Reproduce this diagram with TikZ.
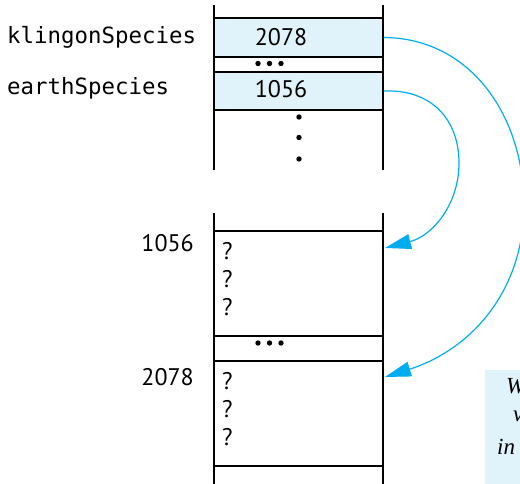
\documentclass[tikz,border=0pt]{standalone}
\usepackage{fontspec}
\setmainfont{PT Sans}
\newfontfamily\monof{DejaVu Sans Mono}
\newfontfamily\serifit{Liberation Serif}
\usetikzlibrary{arrows.meta}
\definecolor{cellblue}{HTML}{E0F2FA}
\definecolor{arrowblue}{HTML}{00AEEF}
\begin{document}
\begin{tikzpicture}[x=1pt,y=-1pt,
  wall/.style={line width=1.1pt, black},
  cellbox/.style={draw=black, line width=1.1pt, minimum width=169pt, inner sep=0pt},
  valtext/.style={font=\fontsize{24}{28}\selectfont, inner sep=0pt},
  lbl/.style={font=\monof\fontsize{22.4}{26}\selectfont, inner sep=0pt, anchor=west},
  qm/.style={font=\fontsize{24}{28}\selectfont, inner sep=0pt, anchor=west},
  note/.style={font=\serifit\itshape\fontsize{23}{27}\selectfont, inner sep=0pt, anchor=west},
  dotm/.style={circle, fill=black, inner sep=0pt, minimum size=5.4pt},
  ptr/.style={arrowblue, line width=1.2pt, -{Triangle[length=26pt,width=15pt]}}]
\useasboundingbox (0,0) rectangle (520,484);
\clip (0,0) rectangle (520,484);
% upper memory column
\draw[wall] (214,5) -- (214,170);
\draw[wall] (383,5) -- (383,170);
\node[cellbox, fill=cellblue, minimum height=39pt] (kc) at (298.5,37.5) {};
\node[cellbox, minimum height=15pt] (gap1) at (298.5,64.5) {};
\node[cellbox, fill=cellblue, minimum height=38pt] (ec) at (298.5,91) {};
\node[valtext] (kv) at (281,37) {2078};
\node[valtext] (ev) at (281,89) {1056};
\node[dotm] (d1) at (258,63.5) {};
\node[dotm] (d2) at (269.5,63.5) {};
\node[dotm] (d3) at (281,63.5) {};
\node[dotm] (v1) at (299,117) {};
\node[dotm] (v2) at (299,137.5) {};
\node[dotm] (v3) at (299,159) {};
\node[lbl] (kl) at (7,37) {klingonSpecies};
\node[lbl] (el) at (7,88) {earthSpecies};
% lower memory column
\draw[wall] (214,213) -- (214,490);
\draw[wall] (383,213) -- (383,490);
\node[cellbox, minimum height=105pt] (b1) at (298.5,283.5) {};
\node[cellbox, minimum height=25pt] (gap2) at (298.5,348.5) {};
\node[cellbox, minimum height=105pt] (b2) at (298.5,413.5) {};
\node[dotm] (d4) at (258,343) {};
\node[dotm] (d5) at (269.5,343) {};
\node[dotm] (d6) at (281,343) {};
\node[valtext, anchor=east] (a1) at (194,243) {1056};
\node[valtext, anchor=east] (a2) at (194,377) {2078};
\node[qm] (q1) at (222,251) {?};
\node[qm] (q2) at (222,279) {?};
\node[qm] (q3) at (222,307) {?};
\node[qm] (q4) at (222,381) {?};
\node[qm] (q5) at (222,409) {?};
\node[qm] (q6) at (222,437) {?};
\coordinate (t1) at (385,248);
\coordinate (t2) at (385,377);
% pointers
\draw[ptr] (ec.east) .. controls (432,89) and (459,120) .. (459,163)
  .. controls (459,205) and (432,236) .. (t1);
\draw[ptr] (kc.east) .. controls (472,38) and (524,118) .. (524,205)
  .. controls (524,292) and (470,350) .. (t2);
% note box (cut off at the right edge)
\fill[cellblue] (485,370) rectangle (530,490);
\node[note] (n1) at (506,386) {W};
\node[note] (n2) at (513,416) {v};
\node[note] (n3) at (497,447) {in};
\end{tikzpicture}
\end{document}
